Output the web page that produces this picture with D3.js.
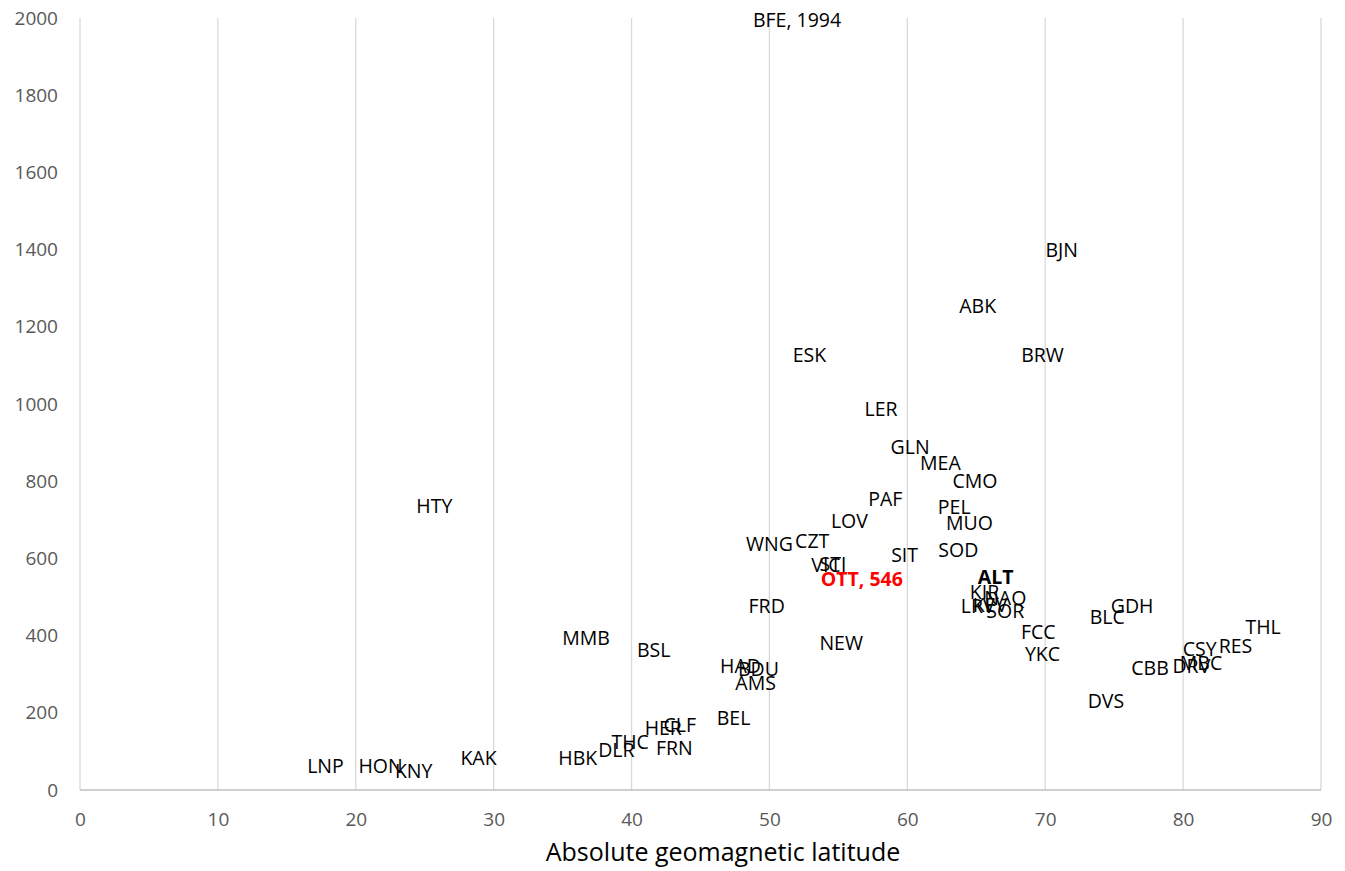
<!DOCTYPE html>
<html><head><meta charset="utf-8">
<script src="https://cdn.jsdelivr.net/npm/d3@7"></script>
<style>body{margin:0;background:#fff}</style>
</head><body>
<svg id="c" width="1345" height="871"></svg>
<script>
const stations = ["BFE, 1994","BJN","ABK","ESK","BRW","LER","GLN","MEA","CMO","HTY","PAF","PEL","LOV","MUO","CZT","WNG","SOD","SIT","VIC","STJ","OTT, 546","ALT","KIR","NAQ","LRV","KEV","SOR","FRD","GDH","BLC","FCC","THL","MMB","NEW","BSL","YKC","RES","CSY","MBC","DRV","CBB","HAD","BDU","AMS","DVS","BEL","CLF","HER","THC","FRN","DLR","HBK","KAK","LNP","HON","KNY"];
const latitudes = [52.0,71.2,65.1,52.9,69.8,58.1,60.2,62.4,64.9,25.7,58.4,63.4,55.8,64.5,53.1,50.0,63.7,59.8,54.1,54.6,56.7,66.4,65.6,67.1,65.1,66.0,67.1,49.8,76.3,74.5,69.5,85.8,36.7,55.2,41.6,69.8,83.8,81.2,81.3,80.6,77.6,47.9,49.2,49.0,74.4,47.4,43.5,42.3,39.9,43.1,38.9,36.1,28.9,17.8,21.8,24.2];
const values = [1994,1400,1254,1127,1127,987,889,847,800,736,754,733,697,692,645,637,622,609,583,585,546,552,513,497,477,479,464,477,477,448,409,422,394,381,363,352,373,365,329,321,316,321,313,277,231,187,168,161,124,109,104,83,83,62,62,49];
const xTicks = [0,10,20,30,40,50,60,70,80,90];
const yTicks = [0,200,400,600,800,1000,1200,1400,1600,1800,2000];
const xTitle = "Absolute geomagnetic latitude";

const svg = d3.select("#c");
const x = d3.scaleLinear().domain([0,90]).range([80,1321]);
const y = d3.scaleLinear().domain([0,2000]).range([790,18]);
const font = "'Open Sans', 'Liberation Sans', sans-serif";

svg.append("g").selectAll("line").data(xTicks).join("line")
  .attr("x1", d=>x(d)).attr("x2", d=>x(d)).attr("y1", y(2000)).attr("y2", y(0))
  .attr("stroke", "#d9d9d9").attr("stroke-width", 1.3);
svg.append("line").attr("x1", x(0)).attr("x2", x(90)).attr("y1", y(0)).attr("y2", y(0))
  .attr("stroke", "#bfbfbf").attr("stroke-width", 1.3);

const xa = svg.append("g").attr("transform", `translate(0,${y(0)})`)
  .call(d3.axisBottom(x).tickValues(xTicks).tickSize(0).tickPadding(23).tickFormat(d3.format("d")));
xa.select(".domain").remove();
xa.selectAll("text").attr("font-family", font).attr("font-size", 19).attr("fill", "#595959");

const ya = svg.append("g").attr("transform", `translate(${x(0)},0)`)
  .call(d3.axisLeft(y).tickValues(yTicks).tickSize(0).tickPadding(22).tickFormat(d3.format("d")));
ya.select(".domain").remove();
ya.selectAll("text").attr("font-family", font).attr("font-size", 19).attr("fill", "#595959");

svg.append("text").attr("x", 723).attr("y", 861)
  .attr("text-anchor", "middle").attr("font-family", font).attr("font-size", 25).attr("fill", "#000")
  .text(xTitle);

const data = stations.map((s,i)=>({s, lat: latitudes[i], v: values[i]}));
svg.append("g").selectAll("text").data(data).join("text")
  .attr("x", d=>x(d.lat)).attr("y", d=>y(d.v)).attr("dy", "0.36em")
  .attr("text-anchor", "middle").attr("font-family", font).attr("font-size", 19.5)
  .attr("fill", d=>d.s.startsWith("OTT") ? "#ff0000" : "#000")
  .attr("font-weight", d=>(d.s.startsWith("OTT")||d.s==="ALT") ? "bold" : "normal")
  .text(d=>d.s);
</script>
</body></html>
